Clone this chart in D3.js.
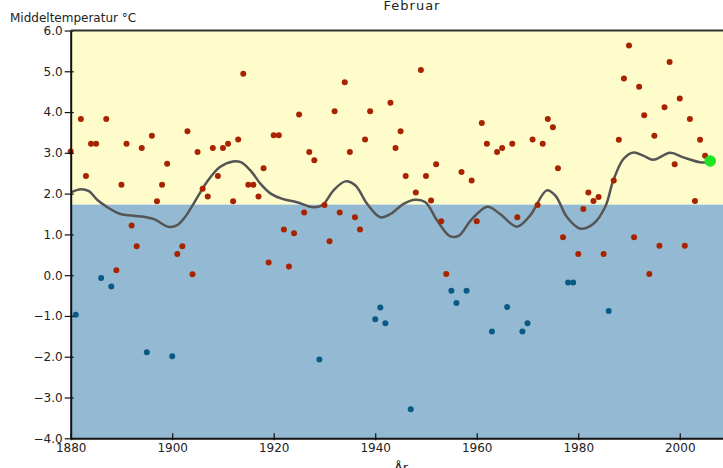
<!DOCTYPE html>
<html>
<head>
<meta charset="utf-8">
<script src="https://cdn.jsdelivr.net/npm/d3@7"></script>
<style>
  body { margin: 0; background: #fff; }
  svg { display: block; font-family: "DejaVu Sans", sans-serif; }
</style>
</head>
<body>
<svg id="chart" width="723" height="468"></svg>
<script>
// februar middeltemperatur, ett punkt per år fra 1880
const firstYear = 1880;
const temps = [
  3.03, -0.97, 3.83, 2.43, 3.22, 3.22, -0.07, 3.83, -0.28, 0.12,
  2.22, 3.22, 1.22, 0.71, 3.12, -1.89, 3.42, 1.81, 2.22, 2.73,
  -1.99, 0.52, 0.71, 3.53, 0.02, 3.02, 2.12, 1.93, 3.12, 2.43,
  3.12, 3.22, 1.81, 3.33, 4.94, 2.22, 2.22, 1.93, 2.62, 0.31,
  3.43, 3.43, 1.12, 0.21, 1.03, 3.94, 1.54, 3.02, 2.82, -2.07,
  1.72, 0.83, 4.02, 1.54, 4.73, 3.02, 1.42, 1.12, 3.33, 4.02,
  -1.08, -0.79, -1.18, 4.23, 3.12, 3.53, 2.43, -3.29, 2.03, 5.03,
  2.43, 1.83, 2.72, 1.32, 0.03, -0.38, -0.68, 2.53, -0.38, 2.32,
  1.32, 3.73, 3.22, -1.38, 3.02, 3.12, -0.78, 3.22, 1.42, -1.38,
  -1.18, 3.33, 1.72, 3.22, 3.83, 3.63, 2.62, 0.93, -0.18, -0.18,
  0.52, 1.62, 2.03, 1.82, 1.92, 0.52, -0.88, 2.32, 3.32, 4.82,
  5.63, 0.93, 4.62, 3.92, 0.03, 3.42, 0.72, 4.12, 5.23, 2.72,
  4.33, 0.72, 3.83, 1.82, 3.32, 2.93, 2.80
];
const years = d3.range(firstYear, firstYear + temps.length);

// utjevnet kurve
const smoothYears = [1880, 1882, 1883.6, 1885.2, 1887.2, 1889.8, 1892.4, 1896.3, 1899.2, 1900.9,
  1902.5, 1904.2, 1906.8, 1909.4, 1912, 1913.5, 1915.4, 1917.4, 1919.4, 1921.7,
  1924.6, 1927.5, 1929.5, 1931.8, 1934.1, 1936.1, 1938.4, 1941, 1943, 1945.6,
  1947.9, 1949.9, 1952.2, 1954.8, 1956.5, 1958.8, 1962.1, 1964.6, 1967.9, 1970.5,
  1973.8, 1975.5, 1977.8, 1980.4, 1983, 1985.3, 1986.9, 1988.9, 1990.9, 1992.8,
  1994.8, 1998.1, 2000.7, 2004, 2006];
const smoothValues = [2.03, 2.11, 2.06, 1.85, 1.67, 1.50, 1.46, 1.38, 1.19, 1.22,
  1.42, 1.75, 2.28, 2.65, 2.79, 2.77, 2.57, 2.24, 2.00, 1.87,
  1.79, 1.67, 1.71, 2.08, 2.30, 2.20, 1.75, 1.42, 1.50, 1.75,
  1.85, 1.79, 1.34, 0.95, 0.97, 1.34, 1.68, 1.50, 1.19, 1.46,
  2.08, 1.95, 1.42, 1.14, 1.26, 1.67, 2.32, 2.85, 3.01, 2.93,
  2.83, 3.00, 2.89, 2.77, 2.77];

const meanValue = 1.73;
const yTicks = [6, 5, 4, 3, 2, 1, 0, -1, -2, -3, -4];
const xTicks = [1880, 1900, 1920, 1940, 1960, 1980, 2000];

const svg = d3.select("#chart");

let x = d3.scaleLinear().domain([1880, 2010]).range([70.7, 730.5]);
let y = d3.scaleLinear().domain([-4, 6]).range([438.3, 30.5]);

// bakgrunn: gul over middel, blå under
svg.append("rect")
   .attr("x", x(1880)).attr("y", y(6))
   .attr("width", x(2010) - x(1880))
   .attr("height", y(meanValue) - y(6))
   .attr("fill", "#fffccc");
svg.append("rect")
   .attr("x", x(1880)).attr("y", y(meanValue))
   .attr("width", x(2010) - x(1880))
   .attr("height", y(-4) - y(meanValue))
   .attr("fill", "#94bad3");

// kurve
let line = d3.line()
             .x((d, i) => x(smoothYears[i]))
             .y(d => y(d))
             .curve(d3.curveCatmullRom.alpha(0.5));
svg.append("path")
   .datum(smoothValues)
   .attr("d", line)
   .attr("fill", "none")
   .attr("stroke", "#555")
   .attr("stroke-width", 2.5);

// punkter
svg.append("g")
   .selectAll("circle")
   .data(temps)
   .enter()
   .append("circle")
   .attr("cx", (d, i) => x(years[i]))
   .attr("cy", d => y(d))
   .attr("r", 3)
   .attr("fill", d => d >= 0 ? "#a82400" : "#0a5a85");

// siste år markert grønt
svg.append("circle")
   .attr("cx", x(years[years.length - 1]))
   .attr("cy", y(temps[temps.length - 1]))
   .attr("r", 5.8)
   .attr("fill", "#1ee61e");

// akser
let yAxis = d3.axisLeft(y).tickValues(yTicks).tickFormat(d3.format(".1f")).tickSizeInner(6).tickSizeOuter(0);
let gy = svg.append("g").attr("transform", "translate(70.7,0)").call(yAxis);
let xAxis = d3.axisBottom(x).tickValues(xTicks).tickFormat(d3.format("d")).tickSizeInner(6).tickSizeOuter(0);
let gx = svg.append("g").attr("transform", "translate(0,438.3)").call(xAxis);

[gy, gx].forEach(g => {
  g.select(".domain").attr("stroke", "#111").attr("stroke-width", 2);
  g.selectAll(".tick line").attr("stroke", "#111").attr("stroke-width", 1.2);
  g.selectAll(".tick text").attr("fill", "#222").attr("font-size", 12).attr("font-family", "DejaVu Sans, sans-serif");
});
gy.selectAll(".tick line").attr("x1", 3);
gy.selectAll(".tick text").attr("x", -8);
gx.selectAll(".tick line").attr("y1", -5).attr("y2", 2);
gx.selectAll(".tick text").attr("y", 5);

// topplinje
svg.append("line")
   .attr("x1", x(1880)).attr("x2", 723)
   .attr("y1", y(6)).attr("y2", y(6))
   .attr("stroke", "#333").attr("stroke-width", 2);

// tekster
svg.append("text")
   .attr("x", 412).attr("y", 10)
   .attr("text-anchor", "middle")
   .attr("font-size", 13).attr("letter-spacing", 1).attr("fill", "#222")
   .text("Februar");
svg.append("text")
   .attr("x", 10).attr("y", 22)
   .attr("font-size", 12).attr("fill", "#222")
   .text("Middeltemperatur °C");
svg.append("text")
   .attr("x", 401).attr("y", 472)
   .attr("text-anchor", "middle")
   .attr("font-size", 13).attr("fill", "#222")
   .text("År");
</script>
</body>
</html>
